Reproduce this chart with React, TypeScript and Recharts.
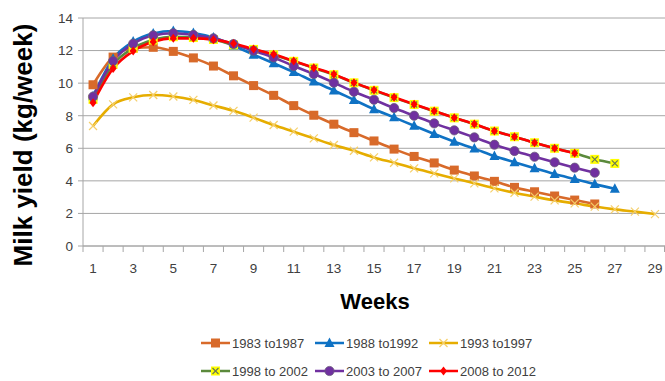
import { CartesianGrid, Line, LineChart, XAxis, YAxis } from "recharts";

const weeks = [1, 2, 3, 4, 5, 6, 7, 8, 9, 10, 11, 12, 13, 14, 15, 16, 17, 18, 19, 20, 21, 22, 23, 24, 25, 26, 27, 28, 29];
const yTicks = [0, 2, 4, 6, 8, 10, 12, 14];

const s1983 = [9.9, 11.6, 12.15, 12.2, 11.95, 11.55, 11.05, 10.45, 9.85, 9.25, 8.62, 8.03, 7.48, 6.96, 6.45, 5.95, 5.5, 5.1, 4.66, 4.3, 3.97, 3.6, 3.33, 3.07, 2.82, 2.58];
const s1988 = [9.2, 11.5, 12.55, 13.05, 13.2, 13.08, 12.8, 12.3, 11.75, 11.22, 10.68, 10.1, 9.55, 8.97, 8.4, 7.9, 7.38, 6.88, 6.4, 5.98, 5.52, 5.14, 4.77, 4.42, 4.11, 3.8, 3.52];
const s1993 = [7.37, 8.7, 9.13, 9.27, 9.18, 8.97, 8.63, 8.3, 7.88, 7.43, 7.02, 6.61, 6.2, 5.85, 5.44, 5.11, 4.77, 4.46, 4.15, 3.85, 3.54, 3.27, 3.03, 2.8, 2.62, 2.42, 2.25, 2.11, 1.96];
const s1998 = [9.0, 11.15, 12.15, 12.65, 12.85, 12.8, 12.68, 12.35, 12.07, 11.74, 11.34, 10.93, 10.52, 10.02, 9.56, 9.11, 8.69, 8.28, 7.87, 7.48, 7.06, 6.71, 6.34, 6.0, 5.69, 5.32, 5.07];
const s2003 = [9.17, 11.36, 12.42, 12.93, 13.06, 12.96, 12.75, 12.4, 11.99, 11.58, 11.05, 10.56, 10.03, 9.47, 8.98, 8.47, 8.0, 7.53, 7.1, 6.67, 6.22, 5.83, 5.48, 5.14, 4.81, 4.5];
const s2008 = [8.8, 10.9, 11.97, 12.54, 12.75, 12.75, 12.67, 12.44, 12.09, 11.77, 11.36, 10.95, 10.54, 10.03, 9.58, 9.13, 8.7, 8.29, 7.88, 7.49, 7.06, 6.71, 6.34, 6.0, 5.69];

const FONT = "'Liberation Sans', Arial, sans-serif";
const TEXT = "#404040";
const GRID = "#a6a6a6";
const PLOT_LEFT = 83;
const BAND = (665 - PLOT_LEFT) / weeks.length;

type MarkerKind = "square" | "triangle" | "cross" | "boxcross" | "circle" | "diamond";

const series: { key: string; name: string; values: number[]; color: string; marker: MarkerKind }[] = [
  { key: "a", name: "1983 to1987", values: s1983, color: "#d86a2a", marker: "square" },
  { key: "b", name: "1988 to1992", values: s1988, color: "#0f72c4", marker: "triangle" },
  { key: "c", name: "1993 to1997", values: s1993, color: "#e6ad00", marker: "cross" },
  { key: "d", name: "1998 to 2002", values: s1998, color: "#5b8a3c", marker: "boxcross" },
  { key: "e", name: "2003 to 2007", values: s2003, color: "#7030a0", marker: "circle" },
  { key: "f", name: "2008 to 2012", values: s2008, color: "#ff0000", marker: "diamond" },
];

const data = weeks.map((w, i) => {
  const row: Record<string, number | undefined> = { week: w };
  series.forEach((s) => {
    row[s.key] = s.values[i];
  });
  return row;
});

function Marker({ kind, cx, cy, color }: { kind: MarkerKind; cx: number; cy: number; color: string }) {
  switch (kind) {
    case "square":
      return <rect x={cx - 4.5} y={cy - 4.5} width={9} height={9} fill={color} />;
    case "triangle":
      return <polygon points={`${cx},${cy - 5.5} ${cx + 5},${cy + 4} ${cx - 5},${cy + 4}`} fill={color} />;
    case "cross":
      return (
        <g stroke="#f5cf6a" strokeWidth={1.2}>
          <line x1={cx - 4} y1={cy - 4} x2={cx + 4} y2={cy + 4} />
          <line x1={cx - 4} y1={cy + 4} x2={cx + 4} y2={cy - 4} />
        </g>
      );
    case "boxcross":
      return (
        <g>
          <rect x={cx - 4.5} y={cy - 4.5} width={9} height={9} fill="#ffff00" />
          <g stroke="#6b7b55" strokeWidth={1.2}>
            <line x1={cx - 3} y1={cy - 3} x2={cx + 3} y2={cy + 3} />
            <line x1={cx - 3} y1={cy + 3} x2={cx + 3} y2={cy - 3} />
          </g>
        </g>
      );
    case "circle":
      return <circle cx={cx} cy={cy} r={4.6} fill={color} stroke="#6a5a7a" strokeWidth={0.8} />;
    case "diamond":
      return <polygon points={`${cx},${cy - 4.5} ${cx + 3.5},${cy} ${cx},${cy + 4.5} ${cx - 3.5},${cy}`} fill={color} />;
  }
}

function makeDot(kind: MarkerKind, color: string) {
  return (props: any) => {
    const { cx, cy, index } = props;
    if (cx == null || cy == null || props.value == null) return <g key={`e-${index}`} />;
    return (
      <g key={`d-${index}`}>
        <Marker kind={kind} cx={cx} cy={cy} color={color} />
      </g>
    );
  };
}

function WeekTick(props: any) {
  const { x, y, payload, index } = props;
  const w = payload.value as number;
  const left = x - BAND / 2;
  const isLast = index === weeks.length - 1;
  return (
    <g>
      <line x1={left} y1={y} x2={left} y2={y + 6} stroke={GRID} />
      {isLast && <line x1={x + BAND / 2 - 0.5} y1={y} x2={x + BAND / 2 - 0.5} y2={y + 6} stroke={GRID} />}
      {w % 2 === 1 && (
        <text x={x} y={y + 27} textAnchor="middle" fontFamily={FONT} fontSize={13.5} fill={TEXT}>
          {w}
        </text>
      )}
    </g>
  );
}

function LegendIcon({ kind, color }: { kind: MarkerKind; color: string }) {
  return (
    <svg width={29} height={12} style={{ display: "block" }}>
      <line x1={0} y1={6} x2={29} y2={6} stroke={color} strokeWidth={2.5} />
      <Marker kind={kind} cx={14.5} cy={6} color={color} />
    </svg>
  );
}

export default function App() {
  return (
    <div style={{ position: "absolute", left: 0, top: 0, width: 665, height: 381, background: "#fff" }}>
      <LineChart width={665} height={381} data={data} margin={{ top: 18, right: 0, bottom: 105, left: 0 }}>
        <CartesianGrid vertical={false} stroke={GRID} />
        <XAxis
          dataKey="week"
          type="category"
          interval={0}
          height={30}
          padding={{ left: BAND / 2, right: BAND / 2 }}
          tickSize={0}
          tickMargin={0}
          tickLine={false}
          axisLine={{ stroke: GRID }}
          tick={<WeekTick />}
          label={{
            content: () => (
              <text x={375} y={309} textAnchor="middle" fontFamily={FONT} fontWeight="bold" fontSize={22} fill="#000">
                Weeks
              </text>
            ),
          }}
        />
        <YAxis
          width={PLOT_LEFT}
          domain={[0, 14]}
          ticks={yTicks}
          interval={0}
          tickSize={5}
          tickMargin={5}
          tickLine={{ stroke: GRID }}
          axisLine={{ stroke: GRID }}
          tick={{ fontFamily: FONT, fontSize: 13.5, fill: TEXT }}
          label={{
            content: () => (
              <text
                x={32}
                y={145}
                transform="rotate(-90, 32, 145)"
                textAnchor="middle"
                fontFamily={FONT}
                fontWeight="bold"
                fontSize={26}
                fill="#000"
              >
                Milk yield (kg/week)
              </text>
            ),
          }}
        />
        {series.map((s) => (
          <Line
            key={s.key}
            type="monotone"
            dataKey={s.key}
            name={s.name}
            stroke={s.color}
            strokeWidth={2.6}
            dot={makeDot(s.marker, s.color)}
            activeDot={false}
            isAnimationActive={false}
          />
        ))}
      </LineChart>
      <div
        style={{
          position: "absolute",
          left: 201,
          top: 333,
          display: "grid",
          gridTemplateColumns: "114px 114px 114px",
          rowGap: 8,
          fontFamily: FONT,
          fontSize: 13,
          color: TEXT,
        }}
      >
        {series.map((s) => (
          <div key={s.key} style={{ display: "flex", alignItems: "center", height: 20, whiteSpace: "nowrap" }}>
            <LegendIcon kind={s.marker} color={s.color} />
            <span style={{ marginLeft: 2 }}>{s.name}</span>
          </div>
        ))}
      </div>
    </div>
  );
}
